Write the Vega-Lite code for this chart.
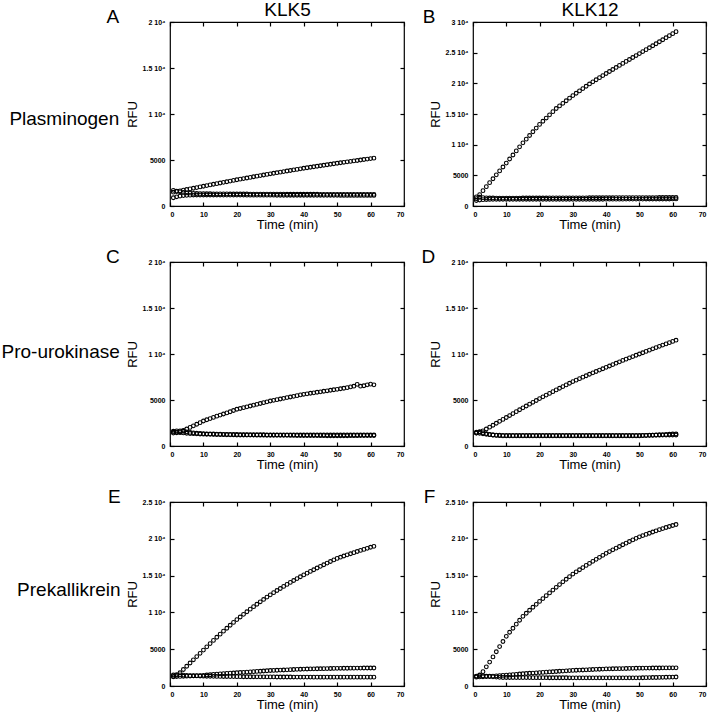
{
"$schema":"https://vega.github.io/schema/vega-lite/v6.json",
"padding":{"left":0,"top":-1,"right":2,"bottom":2},
"background":"white",
"config":{
 "font":"Liberation Sans",
 "view":{"stroke":"black","strokeWidth":1.2},
 "axis":{"domain":false,"grid":false,"tickColor":"black","tickWidth":1.2,"tickSize":-4,"labelFontSize":7,"labelFontWeight":"bold","labelColor":"black","labelFont":"Liberation Sans","titleFont":"Liberation Sans","titleFontSize":13,"titleFontWeight":"normal","titleColor":"black"},
 "axisX":{"labelPadding":8,"titlePadding":1},
 "axisY":{"labelPadding":9,"titlePadding":3},
 "title":{"font":"Liberation Sans","fontSize":19,"fontWeight":"normal","color":"black"},
 "point":{"shape":"circle","filled":false,"size":14,"stroke":"black","strokeWidth":1.1,"opacity":1}
},
"datasets":{
"A":[
{"s":1,"t":1,"v":1500},{"s":1,"t":2,"v":1580},{"s":1,"t":3,"v":1650},{"s":1,"t":4,"v":1720},{"s":1,"t":5,"v":1790},{"s":1,"t":6,"v":1860},{"s":1,"t":7,"v":1930},{"s":1,"t":8,"v":2000},{"s":1,"t":9,"v":2075},{"s":1,"t":10,"v":2150},{"s":1,"t":11,"v":2220},{"s":1,"t":12,"v":2290},{"s":1,"t":13,"v":2360},{"s":1,"t":14,"v":2430},{"s":1,"t":15,"v":2500},{"s":1,"t":16,"v":2570},{"s":1,"t":17,"v":2640},{"s":1,"t":18,"v":2710},{"s":1,"t":19,"v":2780},{"s":1,"t":20,"v":2850},{"s":1,"t":21,"v":2915},{"s":1,"t":22,"v":2980},{"s":1,"t":23,"v":3045},{"s":1,"t":24,"v":3110},{"s":1,"t":25,"v":3175},{"s":1,"t":26,"v":3240},{"s":1,"t":27,"v":3305},{"s":1,"t":28,"v":3370},{"s":1,"t":29,"v":3435},{"s":1,"t":30,"v":3500},{"s":1,"t":31,"v":3560},{"s":1,"t":32,"v":3620},{"s":1,"t":33,"v":3680},{"s":1,"t":34,"v":3740},{"s":1,"t":35,"v":3800},{"s":1,"t":36,"v":3860},{"s":1,"t":37,"v":3920},{"s":1,"t":38,"v":3980},{"s":1,"t":39,"v":4040},{"s":1,"t":40,"v":4100},{"s":1,"t":41,"v":4155},{"s":1,"t":42,"v":4210},{"s":1,"t":43,"v":4265},{"s":1,"t":44,"v":4320},{"s":1,"t":45,"v":4375},{"s":1,"t":46,"v":4430},{"s":1,"t":47,"v":4485},{"s":1,"t":48,"v":4540},{"s":1,"t":49,"v":4595},{"s":1,"t":50,"v":4650},{"s":1,"t":51,"v":4700},{"s":1,"t":52,"v":4750},{"s":1,"t":53,"v":4800},{"s":1,"t":54,"v":4850},{"s":1,"t":55,"v":4900},{"s":1,"t":56,"v":4950},{"s":1,"t":57,"v":5000},{"s":1,"t":58,"v":5050},{"s":1,"t":59,"v":5100},{"s":1,"t":60,"v":5150},{"s":1,"t":61,"v":5200},
{"s":2,"t":1,"v":1700},{"s":2,"t":2,"v":1620},{"s":2,"t":3,"v":1540},{"s":2,"t":4,"v":1480},{"s":2,"t":5,"v":1430},{"s":2,"t":6,"v":1400},{"s":2,"t":7,"v":1380},{"s":2,"t":8,"v":1360},{"s":2,"t":9,"v":1350},{"s":2,"t":10,"v":1340},{"s":2,"t":11,"v":1335},{"s":2,"t":12,"v":1330},{"s":2,"t":13,"v":1325},{"s":2,"t":14,"v":1320},{"s":2,"t":15,"v":1318},{"s":2,"t":16,"v":1315},{"s":2,"t":17,"v":1312},{"s":2,"t":18,"v":1310},{"s":2,"t":19,"v":1308},{"s":2,"t":20,"v":1305},{"s":2,"t":21,"v":1303},{"s":2,"t":22,"v":1300},{"s":2,"t":23,"v":1300},{"s":2,"t":24,"v":1298},{"s":2,"t":25,"v":1296},{"s":2,"t":26,"v":1295},{"s":2,"t":27,"v":1293},{"s":2,"t":28,"v":1292},{"s":2,"t":29,"v":1290},{"s":2,"t":30,"v":1290},{"s":2,"t":31,"v":1288},{"s":2,"t":32,"v":1286},{"s":2,"t":33,"v":1285},{"s":2,"t":34,"v":1284},{"s":2,"t":35,"v":1282},{"s":2,"t":36,"v":1281},{"s":2,"t":37,"v":1280},{"s":2,"t":38,"v":1279},{"s":2,"t":39,"v":1278},{"s":2,"t":40,"v":1277},{"s":2,"t":41,"v":1276},{"s":2,"t":42,"v":1275},{"s":2,"t":43,"v":1274},{"s":2,"t":44,"v":1273},{"s":2,"t":45,"v":1272},{"s":2,"t":46,"v":1271},{"s":2,"t":47,"v":1270},{"s":2,"t":48,"v":1270},{"s":2,"t":49,"v":1269},{"s":2,"t":50,"v":1268},{"s":2,"t":51,"v":1268},{"s":2,"t":52,"v":1267},{"s":2,"t":53,"v":1266},{"s":2,"t":54,"v":1266},{"s":2,"t":55,"v":1265},{"s":2,"t":56,"v":1265},{"s":2,"t":57,"v":1264},{"s":2,"t":58,"v":1264},{"s":2,"t":59,"v":1263},{"s":2,"t":60,"v":1263},{"s":2,"t":61,"v":1262},
{"s":3,"t":1,"v":900},{"s":3,"t":2,"v":1000},{"s":3,"t":3,"v":1080},{"s":3,"t":4,"v":1130},{"s":3,"t":5,"v":1160},{"s":3,"t":6,"v":1180},{"s":3,"t":7,"v":1190},{"s":3,"t":8,"v":1195},{"s":3,"t":9,"v":1200},{"s":3,"t":10,"v":1200},{"s":3,"t":11,"v":1198},{"s":3,"t":12,"v":1196},{"s":3,"t":13,"v":1194},{"s":3,"t":14,"v":1192},{"s":3,"t":15,"v":1190},{"s":3,"t":16,"v":1189},{"s":3,"t":17,"v":1188},{"s":3,"t":18,"v":1187},{"s":3,"t":19,"v":1186},{"s":3,"t":20,"v":1185},{"s":3,"t":21,"v":1184},{"s":3,"t":22,"v":1183},{"s":3,"t":23,"v":1182},{"s":3,"t":24,"v":1181},{"s":3,"t":25,"v":1180},{"s":3,"t":26,"v":1179},{"s":3,"t":27,"v":1178},{"s":3,"t":28,"v":1177},{"s":3,"t":29,"v":1176},{"s":3,"t":30,"v":1175},{"s":3,"t":31,"v":1174},{"s":3,"t":32,"v":1173},{"s":3,"t":33,"v":1172},{"s":3,"t":34,"v":1171},{"s":3,"t":35,"v":1170},{"s":3,"t":36,"v":1169},{"s":3,"t":37,"v":1168},{"s":3,"t":38,"v":1167},{"s":3,"t":39,"v":1166},{"s":3,"t":40,"v":1165},{"s":3,"t":41,"v":1164},{"s":3,"t":42,"v":1163},{"s":3,"t":43,"v":1162},{"s":3,"t":44,"v":1161},{"s":3,"t":45,"v":1160},{"s":3,"t":46,"v":1159},{"s":3,"t":47,"v":1158},{"s":3,"t":48,"v":1157},{"s":3,"t":49,"v":1156},{"s":3,"t":50,"v":1155},{"s":3,"t":51,"v":1154},{"s":3,"t":52,"v":1153},{"s":3,"t":53,"v":1152},{"s":3,"t":54,"v":1151},{"s":3,"t":55,"v":1150},{"s":3,"t":56,"v":1150},{"s":3,"t":57,"v":1150},{"s":3,"t":58,"v":1150},{"s":3,"t":59,"v":1150},{"s":3,"t":60,"v":1150},{"s":3,"t":61,"v":1150}
],
"B":[
{"s":1,"t":1,"v":1200},{"s":1,"t":2,"v":1850},{"s":1,"t":3,"v":2500},{"s":1,"t":4,"v":3150},{"s":1,"t":5,"v":3800},{"s":1,"t":6,"v":4440},{"s":1,"t":7,"v":5080},{"s":1,"t":8,"v":5720},{"s":1,"t":9,"v":6360},{"s":1,"t":10,"v":7000},{"s":1,"t":11,"v":7660},{"s":1,"t":12,"v":8320},{"s":1,"t":13,"v":8980},{"s":1,"t":14,"v":9640},{"s":1,"t":15,"v":10300},{"s":1,"t":16,"v":10900},{"s":1,"t":17,"v":11500},{"s":1,"t":18,"v":12100},{"s":1,"t":19,"v":12700},{"s":1,"t":20,"v":13300},{"s":1,"t":21,"v":13820},{"s":1,"t":22,"v":14340},{"s":1,"t":23,"v":14860},{"s":1,"t":24,"v":15380},{"s":1,"t":25,"v":15900},{"s":1,"t":26,"v":16320},{"s":1,"t":27,"v":16740},{"s":1,"t":28,"v":17160},{"s":1,"t":29,"v":17580},{"s":1,"t":30,"v":18000},{"s":1,"t":31,"v":18380},{"s":1,"t":32,"v":18760},{"s":1,"t":33,"v":19140},{"s":1,"t":34,"v":19520},{"s":1,"t":35,"v":19900},{"s":1,"t":36,"v":20240},{"s":1,"t":37,"v":20580},{"s":1,"t":38,"v":20920},{"s":1,"t":39,"v":21260},{"s":1,"t":40,"v":21600},{"s":1,"t":41,"v":21930},{"s":1,"t":42,"v":22260},{"s":1,"t":43,"v":22590},{"s":1,"t":44,"v":22920},{"s":1,"t":45,"v":23250},{"s":1,"t":46,"v":23570},{"s":1,"t":47,"v":23890},{"s":1,"t":48,"v":24210},{"s":1,"t":49,"v":24530},{"s":1,"t":50,"v":24850},{"s":1,"t":51,"v":25170},{"s":1,"t":52,"v":25490},{"s":1,"t":53,"v":25810},{"s":1,"t":54,"v":26130},{"s":1,"t":55,"v":26450},{"s":1,"t":56,"v":26780},{"s":1,"t":57,"v":27110},{"s":1,"t":58,"v":27440},{"s":1,"t":59,"v":27770},{"s":1,"t":60,"v":28100},{"s":1,"t":61,"v":28430},
{"s":2,"t":1,"v":1500},{"s":2,"t":2,"v":1420},{"s":2,"t":3,"v":1360},{"s":2,"t":4,"v":1330},{"s":2,"t":5,"v":1310},{"s":2,"t":6,"v":1300},{"s":2,"t":7,"v":1295},{"s":2,"t":8,"v":1290},{"s":2,"t":9,"v":1290},{"s":2,"t":10,"v":1290},{"s":2,"t":11,"v":1290},{"s":2,"t":12,"v":1292},{"s":2,"t":13,"v":1294},{"s":2,"t":14,"v":1296},{"s":2,"t":15,"v":1298},{"s":2,"t":16,"v":1300},{"s":2,"t":17,"v":1302},{"s":2,"t":18,"v":1304},{"s":2,"t":19,"v":1306},{"s":2,"t":20,"v":1308},{"s":2,"t":21,"v":1310},{"s":2,"t":22,"v":1312},{"s":2,"t":23,"v":1314},{"s":2,"t":24,"v":1316},{"s":2,"t":25,"v":1318},{"s":2,"t":26,"v":1320},{"s":2,"t":27,"v":1322},{"s":2,"t":28,"v":1324},{"s":2,"t":29,"v":1326},{"s":2,"t":30,"v":1328},{"s":2,"t":31,"v":1330},{"s":2,"t":32,"v":1332},{"s":2,"t":33,"v":1334},{"s":2,"t":34,"v":1336},{"s":2,"t":35,"v":1338},{"s":2,"t":36,"v":1340},{"s":2,"t":37,"v":1342},{"s":2,"t":38,"v":1344},{"s":2,"t":39,"v":1346},{"s":2,"t":40,"v":1348},{"s":2,"t":41,"v":1350},{"s":2,"t":42,"v":1352},{"s":2,"t":43,"v":1354},{"s":2,"t":44,"v":1356},{"s":2,"t":45,"v":1358},{"s":2,"t":46,"v":1360},{"s":2,"t":47,"v":1362},{"s":2,"t":48,"v":1364},{"s":2,"t":49,"v":1366},{"s":2,"t":50,"v":1368},{"s":2,"t":51,"v":1370},{"s":2,"t":52,"v":1372},{"s":2,"t":53,"v":1374},{"s":2,"t":54,"v":1376},{"s":2,"t":55,"v":1378},{"s":2,"t":56,"v":1380},{"s":2,"t":57,"v":1382},{"s":2,"t":58,"v":1384},{"s":2,"t":59,"v":1386},{"s":2,"t":60,"v":1388},{"s":2,"t":61,"v":1390},
{"s":3,"t":1,"v":900},{"s":3,"t":2,"v":980},{"s":3,"t":3,"v":1030},{"s":3,"t":4,"v":1060},{"s":3,"t":5,"v":1075},{"s":3,"t":6,"v":1085},{"s":3,"t":7,"v":1090},{"s":3,"t":8,"v":1095},{"s":3,"t":9,"v":1100},{"s":3,"t":10,"v":1100},{"s":3,"t":11,"v":1100},{"s":3,"t":12,"v":1100},{"s":3,"t":13,"v":1100},{"s":3,"t":14,"v":1100},{"s":3,"t":15,"v":1100},{"s":3,"t":16,"v":1100},{"s":3,"t":17,"v":1100},{"s":3,"t":18,"v":1100},{"s":3,"t":19,"v":1100},{"s":3,"t":20,"v":1100},{"s":3,"t":21,"v":1100},{"s":3,"t":22,"v":1100},{"s":3,"t":23,"v":1100},{"s":3,"t":24,"v":1100},{"s":3,"t":25,"v":1100},{"s":3,"t":26,"v":1100},{"s":3,"t":27,"v":1100},{"s":3,"t":28,"v":1100},{"s":3,"t":29,"v":1100},{"s":3,"t":30,"v":1100},{"s":3,"t":31,"v":1100},{"s":3,"t":32,"v":1100},{"s":3,"t":33,"v":1100},{"s":3,"t":34,"v":1100},{"s":3,"t":35,"v":1100},{"s":3,"t":36,"v":1102},{"s":3,"t":37,"v":1104},{"s":3,"t":38,"v":1106},{"s":3,"t":39,"v":1108},{"s":3,"t":40,"v":1110},{"s":3,"t":41,"v":1112},{"s":3,"t":42,"v":1114},{"s":3,"t":43,"v":1116},{"s":3,"t":44,"v":1118},{"s":3,"t":45,"v":1120},{"s":3,"t":46,"v":1122},{"s":3,"t":47,"v":1124},{"s":3,"t":48,"v":1126},{"s":3,"t":49,"v":1128},{"s":3,"t":50,"v":1130},{"s":3,"t":51,"v":1132},{"s":3,"t":52,"v":1134},{"s":3,"t":53,"v":1136},{"s":3,"t":54,"v":1138},{"s":3,"t":55,"v":1140},{"s":3,"t":56,"v":1142},{"s":3,"t":57,"v":1144},{"s":3,"t":58,"v":1146},{"s":3,"t":59,"v":1148},{"s":3,"t":60,"v":1150},{"s":3,"t":61,"v":1152}
],
"C":[
{"s":1,"t":1,"v":1500},{"s":1,"t":2,"v":1510},{"s":1,"t":3,"v":1550},{"s":1,"t":4,"v":1680},{"s":1,"t":5,"v":1850},{"s":1,"t":6,"v":2020},{"s":1,"t":7,"v":2190},{"s":1,"t":8,"v":2360},{"s":1,"t":9,"v":2540},{"s":1,"t":10,"v":2720},{"s":1,"t":11,"v":2850},{"s":1,"t":12,"v":2980},{"s":1,"t":13,"v":3110},{"s":1,"t":14,"v":3240},{"s":1,"t":15,"v":3360},{"s":1,"t":16,"v":3480},{"s":1,"t":17,"v":3600},{"s":1,"t":18,"v":3720},{"s":1,"t":19,"v":3860},{"s":1,"t":20,"v":3990},{"s":1,"t":21,"v":4080},{"s":1,"t":22,"v":4170},{"s":1,"t":23,"v":4260},{"s":1,"t":24,"v":4350},{"s":1,"t":25,"v":4440},{"s":1,"t":26,"v":4530},{"s":1,"t":27,"v":4620},{"s":1,"t":28,"v":4710},{"s":1,"t":29,"v":4800},{"s":1,"t":30,"v":4890},{"s":1,"t":31,"v":4960},{"s":1,"t":32,"v":5040},{"s":1,"t":33,"v":5110},{"s":1,"t":34,"v":5180},{"s":1,"t":35,"v":5260},{"s":1,"t":36,"v":5330},{"s":1,"t":37,"v":5400},{"s":1,"t":38,"v":5470},{"s":1,"t":39,"v":5550},{"s":1,"t":40,"v":5620},{"s":1,"t":41,"v":5670},{"s":1,"t":42,"v":5730},{"s":1,"t":43,"v":5780},{"s":1,"t":44,"v":5840},{"s":1,"t":45,"v":5890},{"s":1,"t":46,"v":5950},{"s":1,"t":47,"v":6000},{"s":1,"t":48,"v":6060},{"s":1,"t":49,"v":6110},{"s":1,"t":50,"v":6160},{"s":1,"t":51,"v":6220},{"s":1,"t":52,"v":6280},{"s":1,"t":53,"v":6340},{"s":1,"t":54,"v":6420},{"s":1,"t":55,"v":6500},{"s":1,"t":56,"v":6700},{"s":1,"t":57,"v":6500},{"s":1,"t":58,"v":6550},{"s":1,"t":59,"v":6650},{"s":1,"t":60,"v":6720},{"s":1,"t":61,"v":6650},
{"s":2,"t":1,"v":1600},{"s":2,"t":2,"v":1640},{"s":2,"t":3,"v":1650},{"s":2,"t":4,"v":1600},{"s":2,"t":5,"v":1540},{"s":2,"t":6,"v":1480},{"s":2,"t":7,"v":1430},{"s":2,"t":8,"v":1390},{"s":2,"t":9,"v":1360},{"s":2,"t":10,"v":1340},{"s":2,"t":11,"v":1325},{"s":2,"t":12,"v":1310},{"s":2,"t":13,"v":1300},{"s":2,"t":14,"v":1290},{"s":2,"t":15,"v":1280},{"s":2,"t":16,"v":1272},{"s":2,"t":17,"v":1265},{"s":2,"t":18,"v":1258},{"s":2,"t":19,"v":1252},{"s":2,"t":20,"v":1246},{"s":2,"t":21,"v":1242},{"s":2,"t":22,"v":1238},{"s":2,"t":23,"v":1234},{"s":2,"t":24,"v":1230},{"s":2,"t":25,"v":1227},{"s":2,"t":26,"v":1224},{"s":2,"t":27,"v":1221},{"s":2,"t":28,"v":1218},{"s":2,"t":29,"v":1216},{"s":2,"t":30,"v":1214},{"s":2,"t":31,"v":1212},{"s":2,"t":32,"v":1210},{"s":2,"t":33,"v":1208},{"s":2,"t":34,"v":1206},{"s":2,"t":35,"v":1205},{"s":2,"t":36,"v":1204},{"s":2,"t":37,"v":1203},{"s":2,"t":38,"v":1202},{"s":2,"t":39,"v":1201},{"s":2,"t":40,"v":1200},{"s":2,"t":41,"v":1200},{"s":2,"t":42,"v":1200},{"s":2,"t":43,"v":1200},{"s":2,"t":44,"v":1200},{"s":2,"t":45,"v":1200},{"s":2,"t":46,"v":1200},{"s":2,"t":47,"v":1200},{"s":2,"t":48,"v":1200},{"s":2,"t":49,"v":1200},{"s":2,"t":50,"v":1200},{"s":2,"t":51,"v":1200},{"s":2,"t":52,"v":1200},{"s":2,"t":53,"v":1200},{"s":2,"t":54,"v":1200},{"s":2,"t":55,"v":1200},{"s":2,"t":56,"v":1200},{"s":2,"t":57,"v":1200},{"s":2,"t":58,"v":1200},{"s":2,"t":59,"v":1200},{"s":2,"t":60,"v":1200},{"s":2,"t":61,"v":1200},
{"s":3,"t":1,"v":1400},{"s":3,"t":2,"v":1440},{"s":3,"t":3,"v":1450},{"s":3,"t":4,"v":1420},{"s":3,"t":5,"v":1390},{"s":3,"t":6,"v":1360},{"s":3,"t":7,"v":1340},{"s":3,"t":8,"v":1320},{"s":3,"t":9,"v":1300},{"s":3,"t":10,"v":1290},{"s":3,"t":11,"v":1280},{"s":3,"t":12,"v":1270},{"s":3,"t":13,"v":1260},{"s":3,"t":14,"v":1250},{"s":3,"t":15,"v":1240},{"s":3,"t":16,"v":1232},{"s":3,"t":17,"v":1224},{"s":3,"t":18,"v":1216},{"s":3,"t":19,"v":1208},{"s":3,"t":20,"v":1200},{"s":3,"t":21,"v":1197},{"s":3,"t":22,"v":1194},{"s":3,"t":23,"v":1191},{"s":3,"t":24,"v":1188},{"s":3,"t":25,"v":1185},{"s":3,"t":26,"v":1182},{"s":3,"t":27,"v":1179},{"s":3,"t":28,"v":1176},{"s":3,"t":29,"v":1173},{"s":3,"t":30,"v":1170},{"s":3,"t":31,"v":1167},{"s":3,"t":32,"v":1164},{"s":3,"t":33,"v":1161},{"s":3,"t":34,"v":1158},{"s":3,"t":35,"v":1155},{"s":3,"t":36,"v":1152},{"s":3,"t":37,"v":1149},{"s":3,"t":38,"v":1146},{"s":3,"t":39,"v":1143},{"s":3,"t":40,"v":1140},{"s":3,"t":41,"v":1137},{"s":3,"t":42,"v":1134},{"s":3,"t":43,"v":1131},{"s":3,"t":44,"v":1128},{"s":3,"t":45,"v":1125},{"s":3,"t":46,"v":1122},{"s":3,"t":47,"v":1119},{"s":3,"t":48,"v":1116},{"s":3,"t":49,"v":1113},{"s":3,"t":50,"v":1110},{"s":3,"t":51,"v":1112},{"s":3,"t":52,"v":1115},{"s":3,"t":53,"v":1118},{"s":3,"t":54,"v":1121},{"s":3,"t":55,"v":1124},{"s":3,"t":56,"v":1127},{"s":3,"t":57,"v":1130},{"s":3,"t":58,"v":1133},{"s":3,"t":59,"v":1136},{"s":3,"t":60,"v":1139},{"s":3,"t":61,"v":1142}
],
"D":[
{"s":1,"t":1,"v":1400},{"s":1,"t":2,"v":1500},{"s":1,"t":3,"v":1650},{"s":1,"t":4,"v":1850},{"s":1,"t":5,"v":2050},{"s":1,"t":6,"v":2260},{"s":1,"t":7,"v":2470},{"s":1,"t":8,"v":2680},{"s":1,"t":9,"v":2890},{"s":1,"t":10,"v":3100},{"s":1,"t":11,"v":3310},{"s":1,"t":12,"v":3520},{"s":1,"t":13,"v":3730},{"s":1,"t":14,"v":3940},{"s":1,"t":15,"v":4150},{"s":1,"t":16,"v":4350},{"s":1,"t":17,"v":4550},{"s":1,"t":18,"v":4750},{"s":1,"t":19,"v":4950},{"s":1,"t":20,"v":5150},{"s":1,"t":21,"v":5340},{"s":1,"t":22,"v":5530},{"s":1,"t":23,"v":5720},{"s":1,"t":24,"v":5910},{"s":1,"t":25,"v":6100},{"s":1,"t":26,"v":6280},{"s":1,"t":27,"v":6460},{"s":1,"t":28,"v":6640},{"s":1,"t":29,"v":6820},{"s":1,"t":30,"v":7000},{"s":1,"t":31,"v":7160},{"s":1,"t":32,"v":7320},{"s":1,"t":33,"v":7480},{"s":1,"t":34,"v":7640},{"s":1,"t":35,"v":7800},{"s":1,"t":36,"v":7950},{"s":1,"t":37,"v":8100},{"s":1,"t":38,"v":8250},{"s":1,"t":39,"v":8400},{"s":1,"t":40,"v":8550},{"s":1,"t":41,"v":8700},{"s":1,"t":42,"v":8850},{"s":1,"t":43,"v":9000},{"s":1,"t":44,"v":9150},{"s":1,"t":45,"v":9300},{"s":1,"t":46,"v":9440},{"s":1,"t":47,"v":9580},{"s":1,"t":48,"v":9720},{"s":1,"t":49,"v":9860},{"s":1,"t":50,"v":10000},{"s":1,"t":51,"v":10140},{"s":1,"t":52,"v":10280},{"s":1,"t":53,"v":10420},{"s":1,"t":54,"v":10560},{"s":1,"t":55,"v":10700},{"s":1,"t":56,"v":10830},{"s":1,"t":57,"v":10970},{"s":1,"t":58,"v":11100},{"s":1,"t":59,"v":11230},{"s":1,"t":60,"v":11370},{"s":1,"t":61,"v":11500},
{"s":2,"t":1,"v":1500},{"s":2,"t":2,"v":1550},{"s":2,"t":3,"v":1450},{"s":2,"t":4,"v":1350},{"s":2,"t":5,"v":1250},{"s":2,"t":6,"v":1200},{"s":2,"t":7,"v":1150},{"s":2,"t":8,"v":1120},{"s":2,"t":9,"v":1100},{"s":2,"t":10,"v":1100},{"s":2,"t":11,"v":1100},{"s":2,"t":12,"v":1100},{"s":2,"t":13,"v":1100},{"s":2,"t":14,"v":1100},{"s":2,"t":15,"v":1100},{"s":2,"t":16,"v":1100},{"s":2,"t":17,"v":1100},{"s":2,"t":18,"v":1100},{"s":2,"t":19,"v":1100},{"s":2,"t":20,"v":1100},{"s":2,"t":21,"v":1100},{"s":2,"t":22,"v":1100},{"s":2,"t":23,"v":1100},{"s":2,"t":24,"v":1100},{"s":2,"t":25,"v":1100},{"s":2,"t":26,"v":1100},{"s":2,"t":27,"v":1100},{"s":2,"t":28,"v":1100},{"s":2,"t":29,"v":1100},{"s":2,"t":30,"v":1100},{"s":2,"t":31,"v":1100},{"s":2,"t":32,"v":1100},{"s":2,"t":33,"v":1100},{"s":2,"t":34,"v":1100},{"s":2,"t":35,"v":1100},{"s":2,"t":36,"v":1100},{"s":2,"t":37,"v":1100},{"s":2,"t":38,"v":1100},{"s":2,"t":39,"v":1100},{"s":2,"t":40,"v":1100},{"s":2,"t":41,"v":1100},{"s":2,"t":42,"v":1100},{"s":2,"t":43,"v":1100},{"s":2,"t":44,"v":1100},{"s":2,"t":45,"v":1100},{"s":2,"t":46,"v":1100},{"s":2,"t":47,"v":1100},{"s":2,"t":48,"v":1100},{"s":2,"t":49,"v":1100},{"s":2,"t":50,"v":1100},{"s":2,"t":51,"v":1120},{"s":2,"t":52,"v":1140},{"s":2,"t":53,"v":1160},{"s":2,"t":54,"v":1180},{"s":2,"t":55,"v":1200},{"s":2,"t":56,"v":1220},{"s":2,"t":57,"v":1240},{"s":2,"t":58,"v":1260},{"s":2,"t":59,"v":1280},{"s":2,"t":60,"v":1300},{"s":2,"t":61,"v":1300},
{"s":3,"t":1,"v":1400},{"s":3,"t":2,"v":1380},{"s":3,"t":3,"v":1330},{"s":3,"t":4,"v":1280},{"s":3,"t":5,"v":1230},{"s":3,"t":6,"v":1200},{"s":3,"t":7,"v":1180},{"s":3,"t":8,"v":1170},{"s":3,"t":9,"v":1160},{"s":3,"t":10,"v":1150},{"s":3,"t":11,"v":1150},{"s":3,"t":12,"v":1150},{"s":3,"t":13,"v":1150},{"s":3,"t":14,"v":1150},{"s":3,"t":15,"v":1150},{"s":3,"t":16,"v":1150},{"s":3,"t":17,"v":1150},{"s":3,"t":18,"v":1150},{"s":3,"t":19,"v":1150},{"s":3,"t":20,"v":1150},{"s":3,"t":21,"v":1150},{"s":3,"t":22,"v":1150},{"s":3,"t":23,"v":1150},{"s":3,"t":24,"v":1150},{"s":3,"t":25,"v":1150},{"s":3,"t":26,"v":1150},{"s":3,"t":27,"v":1150},{"s":3,"t":28,"v":1150},{"s":3,"t":29,"v":1150},{"s":3,"t":30,"v":1150},{"s":3,"t":31,"v":1150},{"s":3,"t":32,"v":1150},{"s":3,"t":33,"v":1150},{"s":3,"t":34,"v":1150},{"s":3,"t":35,"v":1150},{"s":3,"t":36,"v":1150},{"s":3,"t":37,"v":1150},{"s":3,"t":38,"v":1150},{"s":3,"t":39,"v":1150},{"s":3,"t":40,"v":1150},{"s":3,"t":41,"v":1150},{"s":3,"t":42,"v":1150},{"s":3,"t":43,"v":1150},{"s":3,"t":44,"v":1150},{"s":3,"t":45,"v":1150},{"s":3,"t":46,"v":1150},{"s":3,"t":47,"v":1150},{"s":3,"t":48,"v":1150},{"s":3,"t":49,"v":1150},{"s":3,"t":50,"v":1150},{"s":3,"t":51,"v":1155},{"s":3,"t":52,"v":1160},{"s":3,"t":53,"v":1165},{"s":3,"t":54,"v":1170},{"s":3,"t":55,"v":1175},{"s":3,"t":56,"v":1180},{"s":3,"t":57,"v":1185},{"s":3,"t":58,"v":1190},{"s":3,"t":59,"v":1195},{"s":3,"t":60,"v":1200},{"s":3,"t":61,"v":1200}
],
"E":[
{"s":1,"t":1,"v":1300},{"s":1,"t":2,"v":1450},{"s":1,"t":3,"v":1800},{"s":1,"t":4,"v":2240},{"s":1,"t":5,"v":2680},{"s":1,"t":6,"v":3120},{"s":1,"t":7,"v":3560},{"s":1,"t":8,"v":4000},{"s":1,"t":9,"v":4440},{"s":1,"t":10,"v":4880},{"s":1,"t":11,"v":5320},{"s":1,"t":12,"v":5760},{"s":1,"t":13,"v":6190},{"s":1,"t":14,"v":6620},{"s":1,"t":15,"v":7040},{"s":1,"t":16,"v":7450},{"s":1,"t":17,"v":7850},{"s":1,"t":18,"v":8250},{"s":1,"t":19,"v":8640},{"s":1,"t":20,"v":9020},{"s":1,"t":21,"v":9380},{"s":1,"t":22,"v":9740},{"s":1,"t":23,"v":10090},{"s":1,"t":24,"v":10440},{"s":1,"t":25,"v":10780},{"s":1,"t":26,"v":11110},{"s":1,"t":27,"v":11440},{"s":1,"t":28,"v":11760},{"s":1,"t":29,"v":12080},{"s":1,"t":30,"v":12390},{"s":1,"t":31,"v":12680},{"s":1,"t":32,"v":12970},{"s":1,"t":33,"v":13250},{"s":1,"t":34,"v":13530},{"s":1,"t":35,"v":13800},{"s":1,"t":36,"v":14070},{"s":1,"t":37,"v":14330},{"s":1,"t":38,"v":14590},{"s":1,"t":39,"v":14840},{"s":1,"t":40,"v":15090},{"s":1,"t":41,"v":15330},{"s":1,"t":42,"v":15570},{"s":1,"t":43,"v":15800},{"s":1,"t":44,"v":16030},{"s":1,"t":45,"v":16260},{"s":1,"t":46,"v":16480},{"s":1,"t":47,"v":16700},{"s":1,"t":48,"v":16920},{"s":1,"t":49,"v":17130},{"s":1,"t":50,"v":17340},{"s":1,"t":51,"v":17500},{"s":1,"t":52,"v":17660},{"s":1,"t":53,"v":17820},{"s":1,"t":54,"v":17970},{"s":1,"t":55,"v":18120},{"s":1,"t":56,"v":18270},{"s":1,"t":57,"v":18420},{"s":1,"t":58,"v":18560},{"s":1,"t":59,"v":18700},{"s":1,"t":60,"v":18850},{"s":1,"t":61,"v":18980},
{"s":2,"t":1,"v":1250},{"s":2,"t":2,"v":1280},{"s":2,"t":3,"v":1300},{"s":2,"t":4,"v":1320},{"s":2,"t":5,"v":1340},{"s":2,"t":6,"v":1360},{"s":2,"t":7,"v":1380},{"s":2,"t":8,"v":1400},{"s":2,"t":9,"v":1420},{"s":2,"t":10,"v":1450},{"s":2,"t":11,"v":1490},{"s":2,"t":12,"v":1530},{"s":2,"t":13,"v":1570},{"s":2,"t":14,"v":1610},{"s":2,"t":15,"v":1650},{"s":2,"t":16,"v":1680},{"s":2,"t":17,"v":1710},{"s":2,"t":18,"v":1740},{"s":2,"t":19,"v":1770},{"s":2,"t":20,"v":1800},{"s":2,"t":21,"v":1830},{"s":2,"t":22,"v":1860},{"s":2,"t":23,"v":1890},{"s":2,"t":24,"v":1920},{"s":2,"t":25,"v":1950},{"s":2,"t":26,"v":1980},{"s":2,"t":27,"v":2010},{"s":2,"t":28,"v":2040},{"s":2,"t":29,"v":2070},{"s":2,"t":30,"v":2100},{"s":2,"t":31,"v":2120},{"s":2,"t":32,"v":2140},{"s":2,"t":33,"v":2160},{"s":2,"t":34,"v":2180},{"s":2,"t":35,"v":2200},{"s":2,"t":36,"v":2220},{"s":2,"t":37,"v":2240},{"s":2,"t":38,"v":2260},{"s":2,"t":39,"v":2280},{"s":2,"t":40,"v":2300},{"s":2,"t":41,"v":2310},{"s":2,"t":42,"v":2320},{"s":2,"t":43,"v":2330},{"s":2,"t":44,"v":2340},{"s":2,"t":45,"v":2350},{"s":2,"t":46,"v":2360},{"s":2,"t":47,"v":2370},{"s":2,"t":48,"v":2380},{"s":2,"t":49,"v":2390},{"s":2,"t":50,"v":2400},{"s":2,"t":51,"v":2405},{"s":2,"t":52,"v":2410},{"s":2,"t":53,"v":2415},{"s":2,"t":54,"v":2420},{"s":2,"t":55,"v":2425},{"s":2,"t":56,"v":2430},{"s":2,"t":57,"v":2435},{"s":2,"t":58,"v":2440},{"s":2,"t":59,"v":2445},{"s":2,"t":60,"v":2450},{"s":2,"t":61,"v":2450},
{"s":3,"t":1,"v":1500},{"s":3,"t":2,"v":1550},{"s":3,"t":3,"v":1520},{"s":3,"t":4,"v":1480},{"s":3,"t":5,"v":1440},{"s":3,"t":6,"v":1410},{"s":3,"t":7,"v":1390},{"s":3,"t":8,"v":1370},{"s":3,"t":9,"v":1355},{"s":3,"t":10,"v":1340},{"s":3,"t":11,"v":1330},{"s":3,"t":12,"v":1320},{"s":3,"t":13,"v":1312},{"s":3,"t":14,"v":1305},{"s":3,"t":15,"v":1298},{"s":3,"t":16,"v":1292},{"s":3,"t":17,"v":1286},{"s":3,"t":18,"v":1280},{"s":3,"t":19,"v":1275},{"s":3,"t":20,"v":1270},{"s":3,"t":21,"v":1266},{"s":3,"t":22,"v":1262},{"s":3,"t":23,"v":1258},{"s":3,"t":24,"v":1254},{"s":3,"t":25,"v":1250},{"s":3,"t":26,"v":1247},{"s":3,"t":27,"v":1244},{"s":3,"t":28,"v":1241},{"s":3,"t":29,"v":1238},{"s":3,"t":30,"v":1235},{"s":3,"t":31,"v":1232},{"s":3,"t":32,"v":1229},{"s":3,"t":33,"v":1226},{"s":3,"t":34,"v":1223},{"s":3,"t":35,"v":1220},{"s":3,"t":36,"v":1218},{"s":3,"t":37,"v":1216},{"s":3,"t":38,"v":1214},{"s":3,"t":39,"v":1212},{"s":3,"t":40,"v":1210},{"s":3,"t":41,"v":1208},{"s":3,"t":42,"v":1206},{"s":3,"t":43,"v":1204},{"s":3,"t":44,"v":1202},{"s":3,"t":45,"v":1200},{"s":3,"t":46,"v":1200},{"s":3,"t":47,"v":1200},{"s":3,"t":48,"v":1200},{"s":3,"t":49,"v":1200},{"s":3,"t":50,"v":1200},{"s":3,"t":51,"v":1200},{"s":3,"t":52,"v":1200},{"s":3,"t":53,"v":1200},{"s":3,"t":54,"v":1200},{"s":3,"t":55,"v":1200},{"s":3,"t":56,"v":1200},{"s":3,"t":57,"v":1200},{"s":3,"t":58,"v":1200},{"s":3,"t":59,"v":1200},{"s":3,"t":60,"v":1200},{"s":3,"t":61,"v":1200}
],
"F":[
{"s":1,"t":1,"v":1300},{"s":1,"t":2,"v":1500},{"s":1,"t":3,"v":1950},{"s":1,"t":4,"v":2600},{"s":1,"t":5,"v":3250},{"s":1,"t":6,"v":3950},{"s":1,"t":7,"v":4650},{"s":1,"t":8,"v":5350},{"s":1,"t":9,"v":6050},{"s":1,"t":10,"v":6750},{"s":1,"t":11,"v":7300},{"s":1,"t":12,"v":7850},{"s":1,"t":13,"v":8400},{"s":1,"t":14,"v":8930},{"s":1,"t":15,"v":9460},{"s":1,"t":16,"v":9880},{"s":1,"t":17,"v":10290},{"s":1,"t":18,"v":10700},{"s":1,"t":19,"v":11100},{"s":1,"t":20,"v":11490},{"s":1,"t":21,"v":11880},{"s":1,"t":22,"v":12270},{"s":1,"t":23,"v":12650},{"s":1,"t":24,"v":13030},{"s":1,"t":25,"v":13410},{"s":1,"t":26,"v":13780},{"s":1,"t":27,"v":14150},{"s":1,"t":28,"v":14510},{"s":1,"t":29,"v":14860},{"s":1,"t":30,"v":15210},{"s":1,"t":31,"v":15510},{"s":1,"t":32,"v":15800},{"s":1,"t":33,"v":16090},{"s":1,"t":34,"v":16380},{"s":1,"t":35,"v":16660},{"s":1,"t":36,"v":16940},{"s":1,"t":37,"v":17210},{"s":1,"t":38,"v":17480},{"s":1,"t":39,"v":17750},{"s":1,"t":40,"v":18020},{"s":1,"t":41,"v":18260},{"s":1,"t":42,"v":18500},{"s":1,"t":43,"v":18730},{"s":1,"t":44,"v":18960},{"s":1,"t":45,"v":19190},{"s":1,"t":46,"v":19410},{"s":1,"t":47,"v":19630},{"s":1,"t":48,"v":19850},{"s":1,"t":49,"v":20060},{"s":1,"t":50,"v":20270},{"s":1,"t":51,"v":20440},{"s":1,"t":52,"v":20600},{"s":1,"t":53,"v":20760},{"s":1,"t":54,"v":20920},{"s":1,"t":55,"v":21080},{"s":1,"t":56,"v":21240},{"s":1,"t":57,"v":21390},{"s":1,"t":58,"v":21530},{"s":1,"t":59,"v":21670},{"s":1,"t":60,"v":21810},{"s":1,"t":61,"v":21940},
{"s":2,"t":1,"v":1200},{"s":2,"t":2,"v":1230},{"s":2,"t":3,"v":1260},{"s":2,"t":4,"v":1290},{"s":2,"t":5,"v":1320},{"s":2,"t":6,"v":1350},{"s":2,"t":7,"v":1380},{"s":2,"t":8,"v":1410},{"s":2,"t":9,"v":1440},{"s":2,"t":10,"v":1470},{"s":2,"t":11,"v":1510},{"s":2,"t":12,"v":1550},{"s":2,"t":13,"v":1590},{"s":2,"t":14,"v":1630},{"s":2,"t":15,"v":1670},{"s":2,"t":16,"v":1700},{"s":2,"t":17,"v":1730},{"s":2,"t":18,"v":1760},{"s":2,"t":19,"v":1790},{"s":2,"t":20,"v":1820},{"s":2,"t":21,"v":1850},{"s":2,"t":22,"v":1880},{"s":2,"t":23,"v":1910},{"s":2,"t":24,"v":1940},{"s":2,"t":25,"v":1970},{"s":2,"t":26,"v":2000},{"s":2,"t":27,"v":2030},{"s":2,"t":28,"v":2060},{"s":2,"t":29,"v":2090},{"s":2,"t":30,"v":2120},{"s":2,"t":31,"v":2140},{"s":2,"t":32,"v":2160},{"s":2,"t":33,"v":2180},{"s":2,"t":34,"v":2200},{"s":2,"t":35,"v":2220},{"s":2,"t":36,"v":2240},{"s":2,"t":37,"v":2260},{"s":2,"t":38,"v":2280},{"s":2,"t":39,"v":2300},{"s":2,"t":40,"v":2320},{"s":2,"t":41,"v":2330},{"s":2,"t":42,"v":2340},{"s":2,"t":43,"v":2350},{"s":2,"t":44,"v":2360},{"s":2,"t":45,"v":2370},{"s":2,"t":46,"v":2380},{"s":2,"t":47,"v":2390},{"s":2,"t":48,"v":2400},{"s":2,"t":49,"v":2410},{"s":2,"t":50,"v":2420},{"s":2,"t":51,"v":2425},{"s":2,"t":52,"v":2430},{"s":2,"t":53,"v":2435},{"s":2,"t":54,"v":2440},{"s":2,"t":55,"v":2445},{"s":2,"t":56,"v":2450},{"s":2,"t":57,"v":2455},{"s":2,"t":58,"v":2460},{"s":2,"t":59,"v":2465},{"s":2,"t":60,"v":2470},{"s":2,"t":61,"v":2470},
{"s":3,"t":1,"v":1350},{"s":3,"t":2,"v":1400},{"s":3,"t":3,"v":1380},{"s":3,"t":4,"v":1330},{"s":3,"t":5,"v":1280},{"s":3,"t":6,"v":1240},{"s":3,"t":7,"v":1210},{"s":3,"t":8,"v":1180},{"s":3,"t":9,"v":1160},{"s":3,"t":10,"v":1150},{"s":3,"t":11,"v":1150},{"s":3,"t":12,"v":1148},{"s":3,"t":13,"v":1146},{"s":3,"t":14,"v":1144},{"s":3,"t":15,"v":1142},{"s":3,"t":16,"v":1140},{"s":3,"t":17,"v":1138},{"s":3,"t":18,"v":1136},{"s":3,"t":19,"v":1134},{"s":3,"t":20,"v":1132},{"s":3,"t":21,"v":1130},{"s":3,"t":22,"v":1128},{"s":3,"t":23,"v":1126},{"s":3,"t":24,"v":1124},{"s":3,"t":25,"v":1122},{"s":3,"t":26,"v":1120},{"s":3,"t":27,"v":1118},{"s":3,"t":28,"v":1116},{"s":3,"t":29,"v":1114},{"s":3,"t":30,"v":1112},{"s":3,"t":31,"v":1110},{"s":3,"t":32,"v":1110},{"s":3,"t":33,"v":1110},{"s":3,"t":34,"v":1110},{"s":3,"t":35,"v":1110},{"s":3,"t":36,"v":1110},{"s":3,"t":37,"v":1110},{"s":3,"t":38,"v":1110},{"s":3,"t":39,"v":1110},{"s":3,"t":40,"v":1110},{"s":3,"t":41,"v":1110},{"s":3,"t":42,"v":1110},{"s":3,"t":43,"v":1110},{"s":3,"t":44,"v":1110},{"s":3,"t":45,"v":1110},{"s":3,"t":46,"v":1110},{"s":3,"t":47,"v":1110},{"s":3,"t":48,"v":1110},{"s":3,"t":49,"v":1110},{"s":3,"t":50,"v":1110},{"s":3,"t":51,"v":1120},{"s":3,"t":52,"v":1130},{"s":3,"t":53,"v":1140},{"s":3,"t":54,"v":1150},{"s":3,"t":55,"v":1160},{"s":3,"t":56,"v":1170},{"s":3,"t":57,"v":1180},{"s":3,"t":58,"v":1190},{"s":3,"t":59,"v":1200},{"s":3,"t":60,"v":1210},{"s":3,"t":61,"v":1220}
]
},
"bounds":"flush",
"columns":2,
"spacing":{"row":56,"column":69},
"concat":[
  {"width":234,"height":184,"data":{"name":"A"},
   "title":{"text":["A","Plasminogen"],"lineHeight":102,"orient":"left","angle":0,"align":"right","baseline":"alphabetic","anchor":"end","frame":"group","offset":6,"dx":109,"dy":1},
   "layer":[
    {"transform":[{"filter":"datum.s==1"}],"mark":{"type":"point"},
     "encoding":{"x":{"field":"t","type":"quantitative","scale":{"domain":[0,70],"nice":false},"axis":{"orient":"bottom","title":"Time (min)","values":[0,10,20,30,40,50,60,70]}},
      "y":{"field":"v","type":"quantitative","scale":{"domain":[0,20000],"nice":false},"axis":{"orient":"left","title":"RFU","values":[0,5000,10000,15000,20000],"labelExpr":"datum.value>=10000 ? (datum.value/10000)+' 10⁴' : ''+datum.value"}}}},
    {"transform":[{"filter":"datum.s!=1"}],"mark":{"type":"point"},
     "encoding":{"x":{"field":"t","type":"quantitative","scale":{"domain":[0,70],"nice":false},"axis":{"orient":"top","title":"KLK5","titleFontSize":19,"titlePadding":2,"labels":false,"values":[0,10,20,30,40,50,60,70]}},
      "y":{"field":"v","type":"quantitative","scale":{"domain":[0,20000],"nice":false},"axis":{"orient":"right","title":null,"labels":false,"values":[0,5000,10000,15000,20000]}}}}
   ],
   "resolve":{"axis":{"x":"independent","y":"independent"}}},
  {"width":233,"height":184,"data":{"name":"B"},
   "title":{"text":"B","orient":"left","angle":0,"align":"right","baseline":"alphabetic","anchor":"end","frame":"group","offset":-6,"dx":13,"dy":1},
   "layer":[
    {"transform":[{"filter":"datum.s==1"}],"mark":{"type":"point"},
     "encoding":{"x":{"field":"t","type":"quantitative","scale":{"domain":[0,70],"nice":false},"axis":{"orient":"bottom","title":"Time (min)","values":[0,10,20,30,40,50,60,70]}},
      "y":{"field":"v","type":"quantitative","scale":{"domain":[0,30000],"nice":false},"axis":{"orient":"left","title":"RFU","values":[0,5000,10000,15000,20000,25000,30000],"labelExpr":"datum.value>=10000 ? (datum.value/10000)+' 10⁴' : ''+datum.value"}}}},
    {"transform":[{"filter":"datum.s!=1"}],"mark":{"type":"point"},
     "encoding":{"x":{"field":"t","type":"quantitative","scale":{"domain":[0,70],"nice":false},"axis":{"orient":"top","title":"KLK12","titleFontSize":19,"titlePadding":2,"labels":false,"values":[0,10,20,30,40,50,60,70]}},
      "y":{"field":"v","type":"quantitative","scale":{"domain":[0,30000],"nice":false},"axis":{"orient":"right","title":null,"labels":false,"values":[0,5000,10000,15000,20000,25000,30000]}}}}
   ],
   "resolve":{"axis":{"x":"independent","y":"independent"}}},
  {"width":234,"height":184,"data":{"name":"C"},
   "title":{"text":["C","Pro-urokinase"],"lineHeight":95,"orient":"left","angle":0,"align":"right","baseline":"alphabetic","anchor":"end","frame":"group","offset":6,"dx":118,"dy":1},
   "layer":[
    {"transform":[{"filter":"datum.s==1"}],"mark":{"type":"point"},
     "encoding":{"x":{"field":"t","type":"quantitative","scale":{"domain":[0,70],"nice":false},"axis":{"orient":"bottom","title":"Time (min)","values":[0,10,20,30,40,50,60,70]}},
      "y":{"field":"v","type":"quantitative","scale":{"domain":[0,20000],"nice":false},"axis":{"orient":"left","title":"RFU","values":[0,5000,10000,15000,20000],"labelExpr":"datum.value>=10000 ? (datum.value/10000)+' 10⁴' : ''+datum.value"}}}},
    {"transform":[{"filter":"datum.s!=1"}],"mark":{"type":"point"},
     "encoding":{"x":{"field":"t","type":"quantitative","scale":{"domain":[0,70],"nice":false},"axis":{"orient":"top","title":null,"labels":false,"values":[0,10,20,30,40,50,60,70]}},
      "y":{"field":"v","type":"quantitative","scale":{"domain":[0,20000],"nice":false},"axis":{"orient":"right","title":null,"labels":false,"values":[0,5000,10000,15000,20000]}}}}
   ],
   "resolve":{"axis":{"x":"independent","y":"independent"}}},
  {"width":233,"height":184,"data":{"name":"D"},
   "title":{"text":"D","orient":"left","angle":0,"align":"right","baseline":"alphabetic","anchor":"end","frame":"group","offset":-6,"dx":14,"dy":1},
   "layer":[
    {"transform":[{"filter":"datum.s==1"}],"mark":{"type":"point"},
     "encoding":{"x":{"field":"t","type":"quantitative","scale":{"domain":[0,70],"nice":false},"axis":{"orient":"bottom","title":"Time (min)","values":[0,10,20,30,40,50,60,70]}},
      "y":{"field":"v","type":"quantitative","scale":{"domain":[0,20000],"nice":false},"axis":{"orient":"left","title":"RFU","values":[0,5000,10000,15000,20000],"labelExpr":"datum.value>=10000 ? (datum.value/10000)+' 10⁴' : ''+datum.value"}}}},
    {"transform":[{"filter":"datum.s!=1"}],"mark":{"type":"point"},
     "encoding":{"x":{"field":"t","type":"quantitative","scale":{"domain":[0,70],"nice":false},"axis":{"orient":"top","title":null,"labels":false,"values":[0,10,20,30,40,50,60,70]}},
      "y":{"field":"v","type":"quantitative","scale":{"domain":[0,20000],"nice":false},"axis":{"orient":"right","title":null,"labels":false,"values":[0,5000,10000,15000,20000]}}}}
   ],
   "resolve":{"axis":{"x":"independent","y":"independent"}}},
  {"width":234,"height":184,"data":{"name":"E"},
   "title":{"text":["E","Prekallikrein"],"lineHeight":93,"orient":"left","angle":0,"align":"right","baseline":"alphabetic","anchor":"end","frame":"group","offset":6,"dx":104,"dy":1},
   "layer":[
    {"transform":[{"filter":"datum.s==1"}],"mark":{"type":"point"},
     "encoding":{"x":{"field":"t","type":"quantitative","scale":{"domain":[0,70],"nice":false},"axis":{"orient":"bottom","title":"Time (min)","values":[0,10,20,30,40,50,60,70]}},
      "y":{"field":"v","type":"quantitative","scale":{"domain":[0,25000],"nice":false},"axis":{"orient":"left","title":"RFU","values":[0,5000,10000,15000,20000,25000],"labelExpr":"datum.value>=10000 ? (datum.value/10000)+' 10⁴' : ''+datum.value"}}}},
    {"transform":[{"filter":"datum.s!=1"}],"mark":{"type":"point"},
     "encoding":{"x":{"field":"t","type":"quantitative","scale":{"domain":[0,70],"nice":false},"axis":{"orient":"top","title":null,"labels":false,"values":[0,10,20,30,40,50,60,70]}},
      "y":{"field":"v","type":"quantitative","scale":{"domain":[0,25000],"nice":false},"axis":{"orient":"right","title":null,"labels":false,"values":[0,5000,10000,15000,20000,25000]}}}}
   ],
   "resolve":{"axis":{"x":"independent","y":"independent"}}},
  {"width":233,"height":184,"data":{"name":"F"},
   "title":{"text":"F","orient":"left","angle":0,"align":"right","baseline":"alphabetic","anchor":"end","frame":"group","offset":-6,"dx":12,"dy":1},
   "layer":[
    {"transform":[{"filter":"datum.s==1"}],"mark":{"type":"point"},
     "encoding":{"x":{"field":"t","type":"quantitative","scale":{"domain":[0,70],"nice":false},"axis":{"orient":"bottom","title":"Time (min)","values":[0,10,20,30,40,50,60,70]}},
      "y":{"field":"v","type":"quantitative","scale":{"domain":[0,25000],"nice":false},"axis":{"orient":"left","title":"RFU","values":[0,5000,10000,15000,20000,25000],"labelExpr":"datum.value>=10000 ? (datum.value/10000)+' 10⁴' : ''+datum.value"}}}},
    {"transform":[{"filter":"datum.s!=1"}],"mark":{"type":"point"},
     "encoding":{"x":{"field":"t","type":"quantitative","scale":{"domain":[0,70],"nice":false},"axis":{"orient":"top","title":null,"labels":false,"values":[0,10,20,30,40,50,60,70]}},
      "y":{"field":"v","type":"quantitative","scale":{"domain":[0,25000],"nice":false},"axis":{"orient":"right","title":null,"labels":false,"values":[0,5000,10000,15000,20000,25000]}}}}
   ],
   "resolve":{"axis":{"x":"independent","y":"independent"}}}
]
}
